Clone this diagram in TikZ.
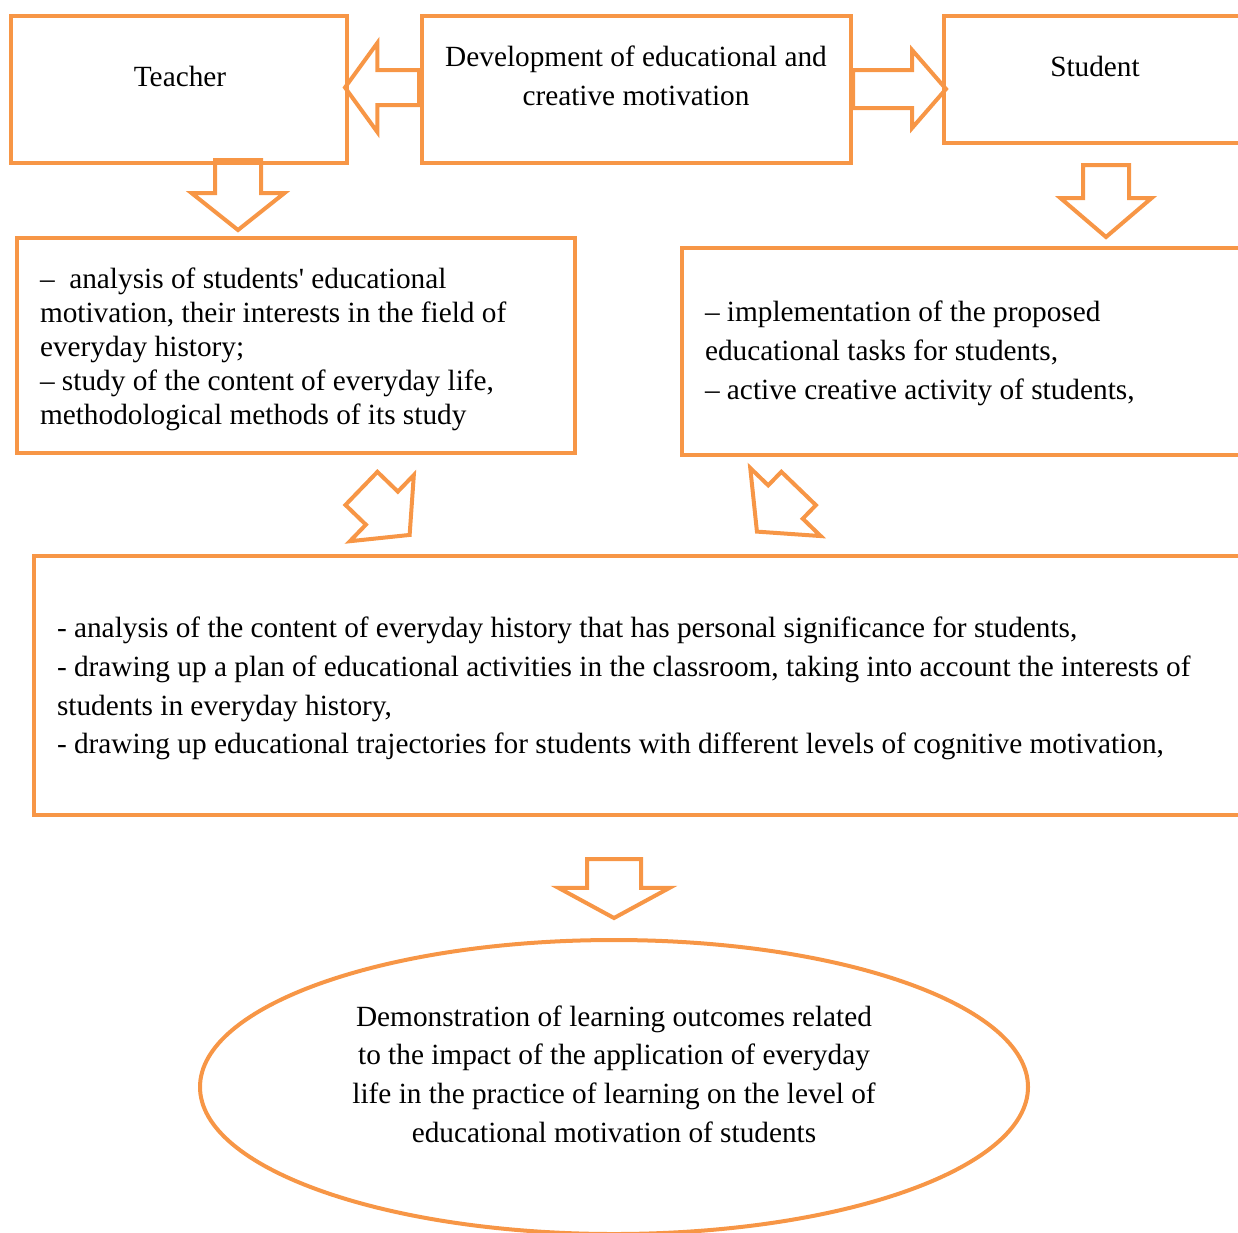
\documentclass[tikz,border=0pt]{standalone}
\usepackage{fontspec}
\setmainfont{Liberation Serif}
\usetikzlibrary{shapes.arrows,shapes.geometric}
\definecolor{boxorange}{RGB}{247,150,70}

\tikzset{
  box/.style={draw=boxorange, line width=4pt, rectangle, inner sep=0pt},
  txt/.style={font=\fontsize{29.3}{39}\selectfont, align=center, inner sep=0pt},
  list/.style={font=\fontsize{29.3}{#1}\selectfont, align=flush left, inner xsep=23pt},
  barrow/.style={draw=boxorange, line width=4pt, single arrow, inner xsep=0pt,
    text height=0pt, text depth=0pt, anchor=tail}
}

\begin{document}
\begin{tikzpicture}[x=1pt,y=-1pt]
\useasboundingbox (0,0) rectangle (1238,1232);

% top row
\node[box, minimum width=336, minimum height=147] (teacher) at (179,89.5) {};
\node[txt] (teachertxt) at (180,76) {Teacher};
\node[box, minimum width=429, minimum height=147] (dev) at (636.5,89.5) {};
\node[txt] (devtxt) at (636,76) {Development of educational and\\creative motivation};
\node[box, minimum width=306, minimum height=127] (student) at (1097,79.5) {};
\node[txt] (studenttxt) at (1095,66) {Student};

\node[barrow, rotate=180, minimum height=74, inner ysep=15.5,
  single arrow head extend=27, single arrow tip angle=108] (toteacher) at (421,87.5) {};
\node[barrow, minimum height=93, inner ysep=17,
  single arrow head extend=20, single arrow tip angle=98] (tostudent) at (851,89) {};

\node[barrow, rotate=-90, minimum height=70, inner ysep=21,
  single arrow head extend=23.5, single arrow tip angle=103] (teacherdown) at (238,158) {};
\node[barrow, rotate=-90, minimum height=72, inner ysep=21,
  single arrow head extend=22.5, single arrow tip angle=99] (studentdown) at (1106,163) {};

% tasks
\node[box, minimum width=558, minimum height=215] (teachertasks) at (296,345.5) {};
\node[list=34, text width=512] (teachertaskstxt) at (296,349.5)
  {–\ \ analysis of students\textquotesingle{} educational\\
   motivation, their interests in the field of\\
   everyday history;\\
   – study of the content of everyday life,\\
   methodological methods of its study};
\node[box, minimum width=568, minimum height=207] (studenttasks) at (966,351.5) {};
\node[list=39, text width=522] (studenttaskstxt) at (966,353.5)
  {– implementation of the proposed\\
   educational tasks for students,\\
   – active creative activity of students,};

\node[barrow, rotate=-44, minimum height=67, inner ysep=21,
  single arrow head extend=23, single arrow tip angle=100] (leftdiag) at (360,487) {};
\node[barrow, rotate=-134, minimum height=60, inner ysep=22,
  single arrow head extend=25, single arrow tip angle=100] (rightdiag) at (800,487) {};

% joint plan
\node[box, minimum width=1216, minimum height=259] (plan) at (642,685.5) {};
\node[list=38.7, text width=1170] (plantxt) at (642,688.5)
  {- analysis of the content of everyday history that has personal significance for students,\\
   - drawing up a plan of educational activities in the classroom, taking into account the interests of\\
   students in everyday history,\\
   - drawing up educational trajectories for students with different levels of cognitive motivation,};

\node[barrow, rotate=-90, minimum height=59, inner ysep=25,
  single arrow head extend=28.5, single arrow tip angle=123] (plandown) at (614,857) {};

% result
\node[draw=boxorange, line width=4pt, ellipse, inner sep=0pt,
  minimum width=828, minimum height=294] (result) at (614,1087) {};
\node[txt, font=\fontsize{29.3}{38.7}\selectfont] (resulttxt) at (614,1074)
  {Demonstration of learning outcomes related\\
   to the impact of the application of everyday\\
   life in the practice of learning on the level of\\
   educational motivation of students};
\end{tikzpicture}
\end{document}
